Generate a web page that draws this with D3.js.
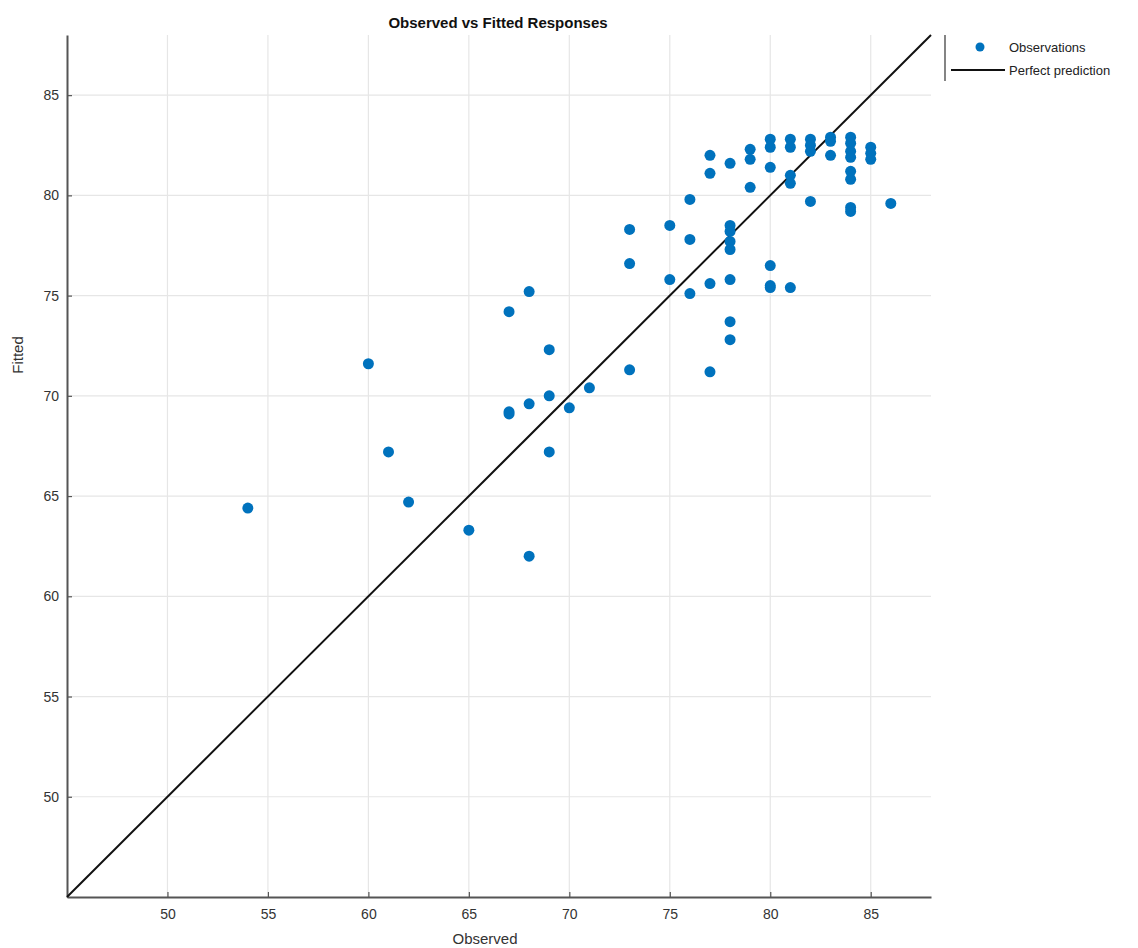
<!DOCTYPE html>
<html>
<head>
<meta charset="utf-8">
<script src="https://cdn.jsdelivr.net/npm/d3@7"></script>
<style>
  body { margin: 0; background: #fff; }
  text { font-family: "Liberation Sans", Arial, Helvetica, sans-serif; }
</style>
</head>
<body>
<div id="chart"></div>
<script>
// Observed vs fitted values
var observed = [54, 60, 61, 62, 65, 67, 67, 67, 68, 68, 68, 69, 69, 69, 70, 71,
    73, 73, 73, 75, 75, 76, 76, 76, 77, 77, 77, 77,
    78, 78, 78, 78, 78, 78, 78, 78, 79, 79, 79,
    80, 80, 80, 80, 80, 80, 81, 81, 81, 81, 81,
    82, 82, 82, 82, 83, 83, 83,
    84, 84, 84, 84, 84, 84, 84, 84, 85, 85, 85, 86];
var fitted = [64.4, 71.6, 67.2, 64.7, 63.3, 74.2, 69.2, 69.1, 75.2, 69.6, 62.0, 72.3, 70.0, 67.2, 69.4, 70.4,
    78.3, 76.6, 71.3, 78.5, 75.8, 79.8, 77.8, 75.1, 82.0, 81.1, 75.6, 71.2,
    81.6, 78.5, 78.2, 77.7, 77.3, 75.8, 73.7, 72.8, 82.3, 81.8, 80.4,
    82.8, 82.4, 81.4, 76.5, 75.5, 75.4, 82.8, 82.4, 81.0, 80.6, 75.4,
    82.8, 82.5, 82.2, 79.7, 82.9, 82.7, 82.0,
    82.9, 82.6, 82.2, 81.9, 81.2, 80.8, 79.4, 79.2, 82.4, 82.1, 81.8, 79.6];
var axisRange = [45, 88];
var tickValues = [50, 55, 60, 65, 70, 75, 80, 85];
var seriesNames = ["Observations", "Perfect prediction"];

var data = observed.map(function(d, i) { return {obs: d, fit: fitted[i]}; });

// SVG area and margins
var svgWidth = 1138;
var svgHeight = 948;
var margin = {top: 35, right: 207, bottom: 51, left: 67};
var width = svgWidth - margin.left - margin.right;
var height = svgHeight - margin.top - margin.bottom;

var svg = d3.select("#chart")
    .append("svg")
    .attr("width", svgWidth)
    .attr("height", svgHeight);

var chartGroup = svg.append("g")
    .attr("transform", `translate(${margin.left}, ${margin.top})`);

// Scales
var xScale = d3.scaleLinear().domain(axisRange).range([0, width]);
var yScale = d3.scaleLinear().domain(axisRange).range([height, 0]);

// Grid lines
chartGroup.append("g")
    .selectAll("line.vgrid")
    .data(tickValues)
    .enter()
    .append("line")
    .attr("x1", d => xScale(d))
    .attr("x2", d => xScale(d))
    .attr("y1", 0)
    .attr("y2", height)
    .attr("stroke", "#e6e6e6")
    .attr("stroke-width", 1.2);

chartGroup.append("g")
    .selectAll("line.hgrid")
    .data(tickValues)
    .enter()
    .append("line")
    .attr("x1", 0)
    .attr("x2", width)
    .attr("y1", d => yScale(d))
    .attr("y2", d => yScale(d))
    .attr("stroke", "#e6e6e6")
    .attr("stroke-width", 1.2);

// Axes
var xAxis = d3.axisBottom(xScale).tickValues(tickValues).tickSizeInner(-5).tickSizeOuter(0).tickPadding(12);
var yAxis = d3.axisLeft(yScale).tickValues(tickValues).tickSizeInner(-5).tickSizeOuter(0).tickPadding(8);

var gx = chartGroup.append("g")
    .attr("transform", `translate(0, ${height})`)
    .call(xAxis);
var gy = chartGroup.append("g")
    .call(yAxis);

[gx, gy].forEach(function(g) {
    g.select(".domain").attr("stroke", "#555").attr("stroke-width", 2);
    g.selectAll(".tick line").attr("stroke", "#555").attr("stroke-width", 1.2);
    g.selectAll(".tick text")
        .attr("fill", "#333")
        .style("font-size", "14px");
});

// Perfect prediction line
chartGroup.append("line")
    .attr("x1", xScale(axisRange[0]))
    .attr("y1", yScale(axisRange[0]))
    .attr("x2", xScale(axisRange[1]))
    .attr("y2", yScale(axisRange[1]))
    .attr("stroke", "#111")
    .attr("stroke-width", 2);

// Points
chartGroup.selectAll("circle")
    .data(data)
    .enter()
    .append("circle")
    .attr("cx", d => xScale(d.obs))
    .attr("cy", d => yScale(d.fit))
    .attr("r", 5.5)
    .attr("fill", "#0072BD");

// Title and axis labels
svg.append("text")
    .attr("x", 498)
    .attr("y", 28)
    .attr("text-anchor", "middle")
    .style("font-size", "15px")
    .style("font-weight", "bold")
    .attr("fill", "#111")
    .text("Observed vs Fitted Responses");

svg.append("text")
    .attr("transform", "rotate(-90)")
    .attr("x", -355)
    .attr("y", 23)
    .attr("text-anchor", "middle")
    .style("font-size", "15px")
    .attr("fill", "#333")
    .text("Fitted");

svg.append("text")
    .attr("x", 485)
    .attr("y", 944)
    .attr("text-anchor", "middle")
    .style("font-size", "15px")
    .attr("fill", "#333")
    .text("Observed");

// Legend
var legend = svg.append("g").attr("transform", "translate(945, 35)");
legend.append("line")
    .attr("x1", 0).attr("x2", 0)
    .attr("y1", 0).attr("y2", 46)
    .attr("stroke", "#333")
    .attr("stroke-width", 1.2);
legend.append("circle")
    .attr("cx", 35).attr("cy", 12)
    .attr("r", 4.5)
    .attr("fill", "#0072BD");
legend.append("line")
    .attr("x1", 6).attr("x2", 60)
    .attr("y1", 35).attr("y2", 35)
    .attr("stroke", "#111")
    .attr("stroke-width", 2);
legend.selectAll("text.leg")
    .data(seriesNames)
    .enter()
    .append("text")
    .attr("x", 64)
    .attr("y", (d, i) => 17 + i * 23)
    .style("font-size", "13px")
    .attr("fill", "#222")
    .text(d => d);
</script>
</body>
</html>
